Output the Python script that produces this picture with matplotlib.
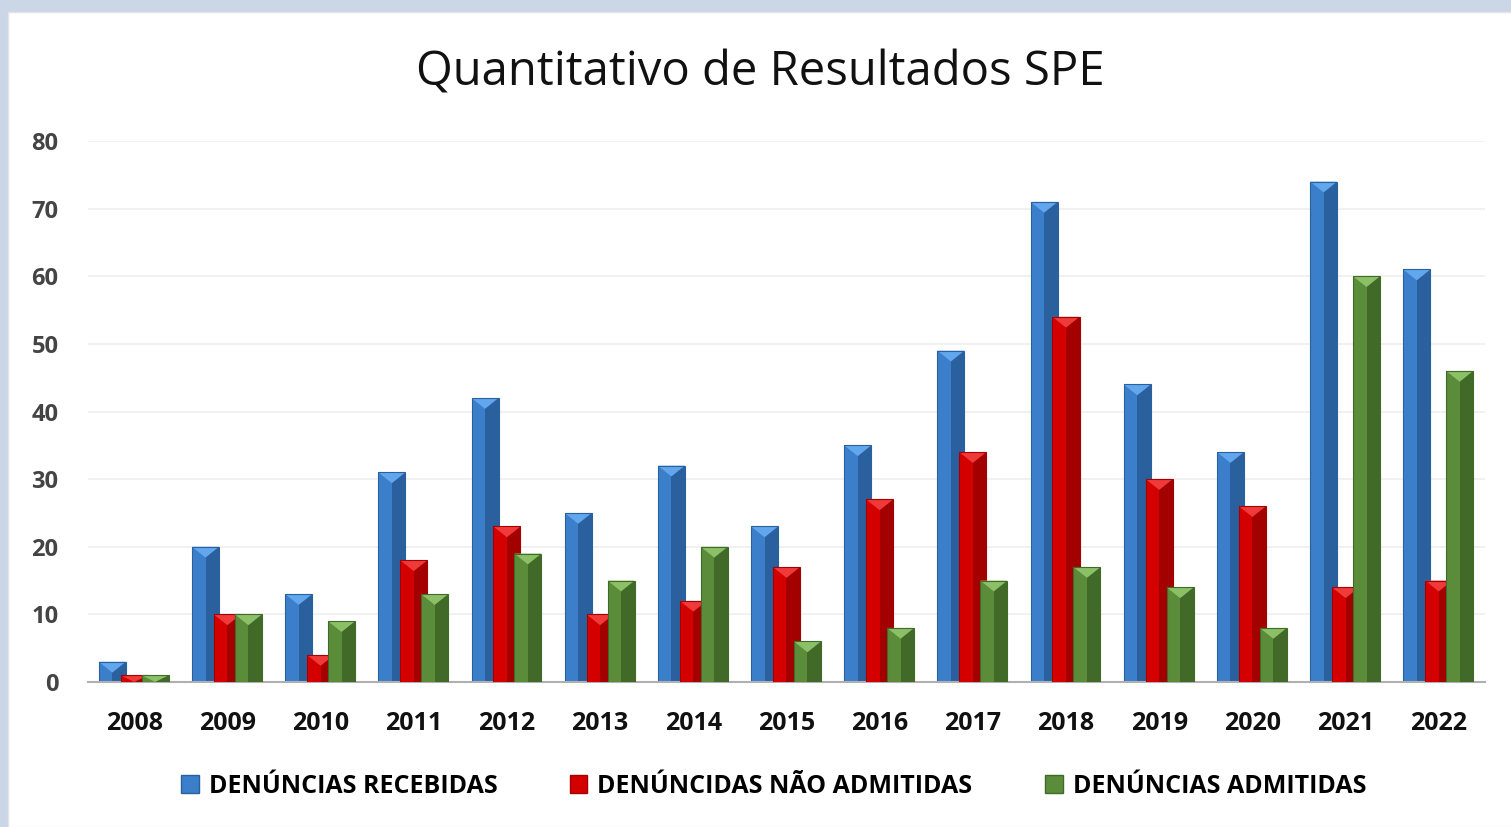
from matplotlib import pyplot as pl
from matplotlib.patches import Polygon, Rectangle, Patch
import numpy as np

years = ['2008', '2009', '2010', '2011', '2012', '2013', '2014', '2015',
         '2016', '2017', '2018', '2019', '2020', '2021', '2022']
recebidas = [3, 20, 13, 31, 42, 25, 32, 23, 35, 49, 71, 44, 34, 74, 61]
nao_admitidas = [1, 10, 4, 18, 23, 10, 12, 17, 27, 34, 54, 30, 26, 14, 15]
admitidas = [1, 10, 9, 13, 19, 15, 20, 6, 8, 15, 17, 14, 8, 60, 46]

labels = ['DENÚNCIAS RECEBIDAS', 'DENÚNCIDAS NÃO ADMITIDAS', 'DENÚNCIAS ADMITIDAS']
# (face, dark side, light top)
colors = [
    ('#3b7fcb', '#2b609f', '#62a6ee'),
    ('#d40000', '#a30000', '#f03a3a'),
    ('#5b8c3a', '#416a28', '#8cc067'),
]

pl.rcParams['font.family'] = ['Open Sans', 'DejaVu Sans']

fig = pl.figure(figsize=(15.11, 8.27), dpi=100)
fig.patch.set_facecolor('#cbd7e6')
fig.add_artist(Rectangle((8 / 1511, 0), 1, 1 - 12 / 827,
                         transform=fig.transFigure, facecolor='white',
                         edgecolor='#e4e4e4', linewidth=1, zorder=0))

ax = fig.add_axes([0.058, 0.1753, 0.925, 0.6542])
ax.set_facecolor('none')

x = np.arange(len(years))
width = 0.29
offsets = [-0.235, 0.0, 0.225]
series = [recebidas, nao_admitidas, admitidas]

ax.set_xlim(-0.5, len(years) - 0.5)
ax.set_ylim(0, 80)

# data units per pixel, to keep the bevel triangle looking square
ppx = (len(years)) / (0.925 * 1511)
ppy = 80 / (0.6542 * 827)

for s, vals in enumerate(series):
    face, dark, light = colors[s]
    for xi, h in zip(x, vals):
        x0 = xi + offsets[s] - width / 2
        x1 = x0 + width
        c = x0 + width / 2
        ax.add_patch(Rectangle((x0, 0), width, h, facecolor=face,
                               edgecolor='none', zorder=2 + s))
        ax.add_patch(Rectangle((c, 0), width / 2, h, facecolor=dark,
                               edgecolor='none', zorder=2 + s))
        d = min((width / 2) / ppx * ppy * 0.8, h)
        ax.add_patch(Polygon([(x0, h), (x1, h), (c, h - d)],
                             closed=True, facecolor=light, edgecolor='none',
                             zorder=2 + s))
        ax.add_patch(Rectangle((x0, 0), width, h, facecolor='none',
                               edgecolor=dark, linewidth=0.8, zorder=2 + s))

ax.set_yticks(np.arange(0, 81, 10))
ax.yaxis.grid(True, color='#efefef', linewidth=1.2)
ax.set_axisbelow(True)
ax.set_xticks(x)
ax.set_xticklabels(years, fontsize=18, fontweight='bold', color='#111111')
for lab in ax.get_yticklabels():
    lab.set_fontsize(17)
    lab.set_fontweight('bold')
    lab.set_color('#444444')
ax.tick_params(axis='both', length=0)
ax.tick_params(axis='x', pad=21)
ax.tick_params(axis='y', pad=21)
for sp in ['top', 'right', 'left']:
    ax.spines[sp].set_visible(False)
ax.spines['bottom'].set_color('#b0b0b0')
ax.spines['bottom'].set_linewidth(1.5)

fig.text(0.503, 0.912, 'Quantitativo de Resultados SPE', ha='center',
         va='center', fontsize=34, color='#111111')

handles = [Patch(facecolor=colors[i][0], edgecolor=colors[i][1])
           for i in range(3)]
fig.legend(handles, labels, loc='center', bbox_to_anchor=(0.512, 0.049),
           ncol=3, frameon=False, handlelength=0.7,
           handleheight=0.7, handletextpad=0.4, columnspacing=2.9,
           prop={'weight': 'bold', 'size': 18})

fig.savefig('out.png', dpi=100)
